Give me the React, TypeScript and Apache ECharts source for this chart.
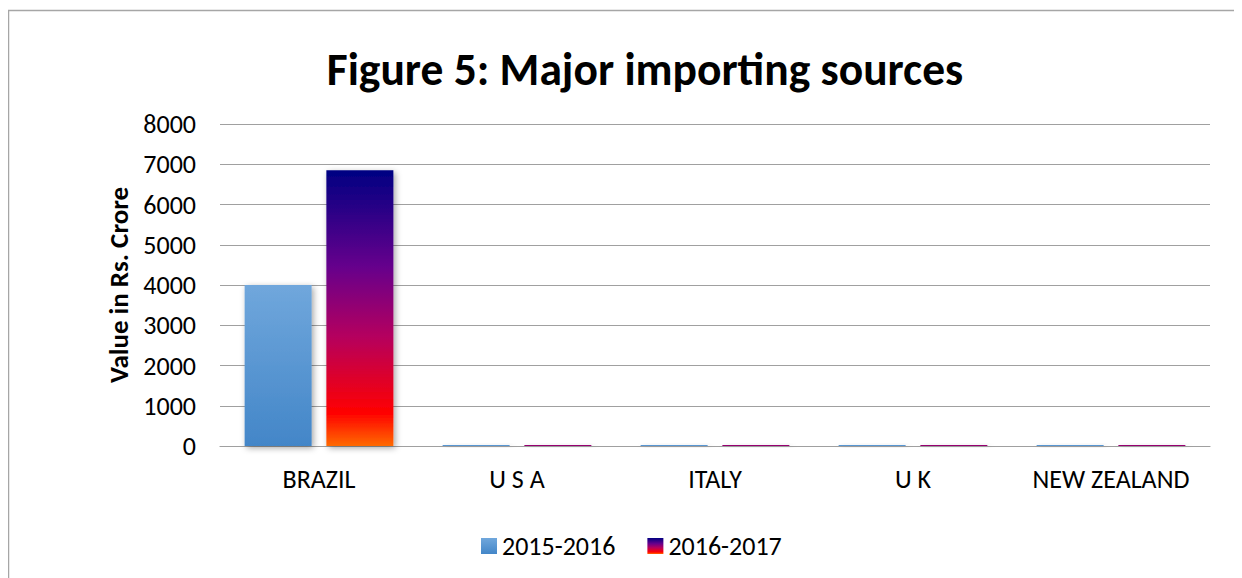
import React, { useEffect, useRef } from "react";
import * as echarts from "echarts";

const categories = ["BRAZIL", "U S A", "ITALY", "U K", "NEW ZEALAND"];
const series2015 = [4000, 25, 25, 25, 25];
const series2016 = [6850, 25, 25, 25, 25];
const seriesNames = ["2015-2016", "2016-2017"];
const yTicks = { min: 0, max: 8000, interval: 1000 };

const FONT = "Carlito, Lato, 'Open Sans', sans-serif";

export default function App() {
  const ref = useRef<HTMLDivElement>(null);
  useEffect(() => {
    if (!ref.current) return;
    const chart = echarts.init(ref.current, null, { renderer: "svg" });
    const grad2015 = new echarts.graphic.LinearGradient(0, 0, 0, 1, [
      { offset: 0, color: "#70a7dc" },
      { offset: 1, color: "#4386c8" },
    ]);
    const grad2016 = new echarts.graphic.LinearGradient(0, 0, 0, 1, [
      { offset: 0, color: "#000082" },
      { offset: 0.35, color: "#66008c" },
      { offset: 0.6, color: "#b4005f" },
      { offset: 0.88, color: "#ff0000" },
      { offset: 1, color: "#ff6a00" },
    ]);
    chart.setOption({
      animation: false,
      title: {
        text: "Figure 5: Major importing sources",
        left: 632,
        top: 33,
        textAlign: "center",
        textStyle: { fontFamily: FONT, fontSize: 45.5, fontWeight: "bold", color: "#000" },
      },
      legend: {
        bottom: 14,
        left: 468,
        itemWidth: 16,
        itemHeight: 16,
        itemGap: 32,
        itemSpacing: 6,
        icon: "rect",
        textStyle: { fontFamily: FONT, fontSize: 26, color: "#000" },
        data: seriesNames,
      },
      graphic: [
        {
          type: "rect",
          shape: { x: 0.5, y: 2.5, width: 3000, height: 3000 },
          style: { fill: "none", stroke: "#a6a6a6", lineWidth: 1.5 },
          silent: true,
        },
      ],
      grid: { left: 212, right: 32, top: 116, bottom: 132 },
      xAxis: {
        type: "category",
        data: categories,
        axisTick: { show: false },
        axisLine: { lineStyle: { color: "#a0a0a0", width: 1.2 } },
        axisLabel: { fontFamily: FONT, fontSize: 26, color: "#000", margin: 20, interval: 0 },
      },
      yAxis: {
        type: "value",
        min: yTicks.min,
        max: yTicks.max,
        interval: yTicks.interval,
        name: "Value in Rs. Crore",
        nameLocation: "middle",
        nameGap: 86,
        nameTextStyle: { fontFamily: FONT, fontSize: 27, fontWeight: "bold", color: "#000" },
        axisLine: { show: false },
        axisTick: { show: false },
        axisLabel: {
          fontFamily: FONT,
          fontSize: 26,
          color: "#000",
          margin: 24,
          formatter: (v: number) => String(v),
        },
        splitLine: { lineStyle: { color: "#a0a0a0", width: 1.2 } },
      },
      series: [
        {
          name: seriesNames[0],
          type: "bar",
          data: series2015,
          barWidth: 67,
          barGap: "22%",
          itemStyle: {
            color: grad2015,
            shadowBlur: 6,
            shadowColor: "rgba(0,0,0,0.35)",
            shadowOffsetX: 2,
            shadowOffsetY: 2,
          },
        },
        {
          name: seriesNames[1],
          type: "bar",
          data: series2016,
          barWidth: 67,
          barGap: "22%",
          itemStyle: {
            color: grad2016,
            shadowBlur: 6,
            shadowColor: "rgba(0,0,0,0.35)",
            shadowOffsetX: 2,
            shadowOffsetY: 2,
          },
        },
      ],
    });
    return () => chart.dispose();
  }, []);
  return <div ref={ref} style={{ width: 1234, height: 570 }} />;
}
